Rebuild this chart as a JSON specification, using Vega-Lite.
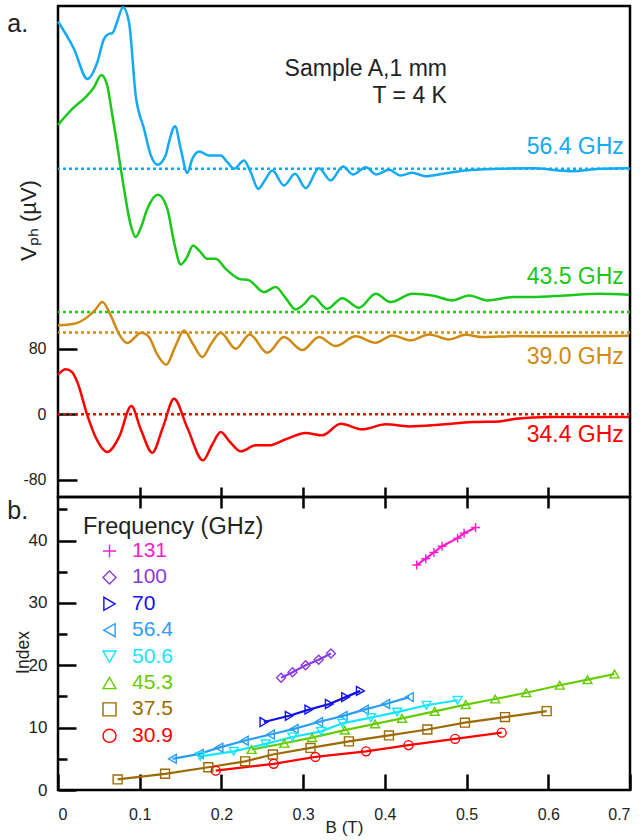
{
  "$schema": "https://vega.github.io/schema/vega-lite/v6.json",
  "padding": {"left": 6, "top": 0, "right": 5, "bottom": 5},
  "spacing": 0,
  "bounds": "flush",
  "config": {
    "font": "Liberation Sans",
    "view": {"stroke": "#000", "strokeWidth": 2.5},
    "axis": {"grid": false, "domain": false, "tickColor": "#000", "tickWidth": 2.5, "labelColor": "#222", "titleColor": "#222", "titleFontWeight": "normal", "labelFont": "Liberation Sans", "titleFont": "Liberation Sans"},
    "text": {"font": "Liberation Sans"}
  },
  "datasets": {
    "base": [
      {"f": "56.4 GHz", "V": 300},
      {"f": "43.5 GHz", "V": 125},
      {"f": "39.0 GHz", "V": 100},
      {"f": "34.4 GHz", "V": 0}
    ],
    "curves": [
      {"f":"56.4 GHz","B":0,"V":480},{"f":"56.4 GHz","B":0.0196,"V":446.5},{"f":"56.4 GHz","B":0.0359,"V":409.9},{"f":"56.4 GHz","B":0.0481,"V":430.3},{"f":"56.4 GHz","B":0.0563,"V":458.8},{"f":"56.4 GHz","B":0.0624,"V":464.9},{"f":"56.4 GHz","B":0.0665,"V":465.7},{"f":"56.4 GHz","B":0.0722,"V":479.2},{"f":"56.4 GHz","B":0.0795,"V":497.5},{"f":"56.4 GHz","B":0.0869,"V":479.2},{"f":"56.4 GHz","B":0.0951,"V":389.6},{"f":"56.4 GHz","B":0.1053,"V":348.8},{"f":"56.4 GHz","B":0.1135,"V":316.7},{"f":"56.4 GHz","B":0.1215,"V":304.9},{"f":"56.4 GHz","B":0.1318,"V":316.7},{"f":"56.4 GHz","B":0.1358,"V":332.6},{"f":"56.4 GHz","B":0.1432,"V":352.1},{"f":"56.4 GHz","B":0.1502,"V":324.4},{"f":"56.4 GHz","B":0.1582,"V":295.1},{"f":"56.4 GHz","B":0.1644,"V":312.2},{"f":"56.4 GHz","B":0.1726,"V":321.2},{"f":"56.4 GHz","B":0.1848,"V":316.3},{"f":"56.4 GHz","B":0.1991,"V":316.3},{"f":"56.4 GHz","B":0.2072,"V":308.2},{"f":"56.4 GHz","B":0.2154,"V":300},{"f":"56.4 GHz","B":0.2276,"V":310.2},{"f":"56.4 GHz","B":0.2358,"V":295.9},{"f":"56.4 GHz","B":0.2451,"V":275.5},{"f":"56.4 GHz","B":0.2533,"V":286.2},{"f":"56.4 GHz","B":0.2623,"V":298},{"f":"56.4 GHz","B":0.2766,"V":279.7},{"f":"56.4 GHz","B":0.2901,"V":293.9},{"f":"56.4 GHz","B":0.3031,"V":276.4},{"f":"56.4 GHz","B":0.3194,"V":300.8},{"f":"56.4 GHz","B":0.3337,"V":285.8},{"f":"56.4 GHz","B":0.3488,"V":302.9},{"f":"56.4 GHz","B":0.361,"V":293.1},{"f":"56.4 GHz","B":0.3766,"V":302},{"f":"56.4 GHz","B":0.3895,"V":293.1},{"f":"56.4 GHz","B":0.4051,"V":298.8},{"f":"56.4 GHz","B":0.4194,"V":291.9},{"f":"56.4 GHz","B":0.4336,"V":295.1},{"f":"56.4 GHz","B":0.45,"V":291.1},{"f":"56.4 GHz","B":0.4745,"V":294.7},{"f":"56.4 GHz","B":0.499,"V":298},{"f":"56.4 GHz","B":0.5397,"V":300},{"f":"56.4 GHz","B":0.5801,"V":300.8},{"f":"56.4 GHz","B":0.6291,"V":297.2},{"f":"56.4 GHz","B":0.6621,"V":300},{"f":"56.4 GHz","B":0.6988,"V":300.8},
      {"f":"43.5 GHz","B":0,"V":353.7},{"f":"43.5 GHz","B":0.0175,"V":373.3},{"f":"43.5 GHz","B":0.0339,"V":387.6},{"f":"43.5 GHz","B":0.0441,"V":399.8},{"f":"43.5 GHz","B":0.053,"V":414.8},{"f":"43.5 GHz","B":0.0603,"V":401.8},{"f":"43.5 GHz","B":0.0649,"V":375.3},{"f":"43.5 GHz","B":0.0706,"V":340.8},{"f":"43.5 GHz","B":0.0808,"V":275.5},{"f":"43.5 GHz","B":0.0881,"V":234.9},{"f":"43.5 GHz","B":0.0951,"V":216.6},{"f":"43.5 GHz","B":0.1016,"V":228.8},{"f":"43.5 GHz","B":0.1093,"V":251.1},{"f":"43.5 GHz","B":0.1224,"V":268.2},{"f":"43.5 GHz","B":0.1338,"V":251.1},{"f":"43.5 GHz","B":0.142,"V":210.4},{"f":"43.5 GHz","B":0.1502,"V":183.2},{"f":"43.5 GHz","B":0.1579,"V":192.1},{"f":"43.5 GHz","B":0.1652,"V":206.4},{"f":"43.5 GHz","B":0.1726,"V":200.3},{"f":"43.5 GHz","B":0.1827,"V":190},{"f":"43.5 GHz","B":0.193,"V":190},{"f":"43.5 GHz","B":0.2052,"V":177.8},{"f":"43.5 GHz","B":0.2215,"V":165.6},{"f":"43.5 GHz","B":0.2338,"V":163.7},{"f":"43.5 GHz","B":0.2521,"V":149.4},{"f":"43.5 GHz","B":0.2664,"V":155.5},{"f":"43.5 GHz","B":0.2778,"V":143.3},{"f":"43.5 GHz","B":0.2909,"V":128.2},{"f":"43.5 GHz","B":0.3011,"V":134.7},{"f":"43.5 GHz","B":0.3112,"V":144.5},{"f":"43.5 GHz","B":0.3296,"V":129},{"f":"43.5 GHz","B":0.3479,"V":142},{"f":"43.5 GHz","B":0.3684,"V":130.2},{"f":"43.5 GHz","B":0.3888,"V":147.3},{"f":"43.5 GHz","B":0.4072,"V":137.2},{"f":"43.5 GHz","B":0.4336,"V":147.3},{"f":"43.5 GHz","B":0.4581,"V":145.3},{"f":"43.5 GHz","B":0.4826,"V":139.2},{"f":"43.5 GHz","B":0.503,"V":145.3},{"f":"43.5 GHz","B":0.5254,"V":139.2},{"f":"43.5 GHz","B":0.556,"V":143.3},{"f":"43.5 GHz","B":0.5805,"V":143.3},{"f":"43.5 GHz","B":0.6213,"V":145.3},{"f":"43.5 GHz","B":0.6621,"V":147.3},{"f":"43.5 GHz","B":0.6988,"V":146.1},
      {"f":"39.0 GHz","B":0,"V":108.7},{"f":"39.0 GHz","B":0.0196,"V":110.7},{"f":"39.0 GHz","B":0.0359,"V":118.8},{"f":"39.0 GHz","B":0.0453,"V":127.4},{"f":"39.0 GHz","B":0.0542,"V":137.2},{"f":"39.0 GHz","B":0.0645,"V":120.9},{"f":"39.0 GHz","B":0.0747,"V":98.1},{"f":"39.0 GHz","B":0.0848,"V":87.1},{"f":"39.0 GHz","B":0.1019,"V":99.7},{"f":"39.0 GHz","B":0.1114,"V":94.4},{"f":"39.0 GHz","B":0.1212,"V":73.7},{"f":"39.0 GHz","B":0.1325,"V":60.6},{"f":"39.0 GHz","B":0.1432,"V":82.2},{"f":"39.0 GHz","B":0.1542,"V":102.6},{"f":"39.0 GHz","B":0.1652,"V":85.9},{"f":"39.0 GHz","B":0.1766,"V":70},{"f":"39.0 GHz","B":0.1872,"V":85.9},{"f":"39.0 GHz","B":0.1991,"V":99.7},{"f":"39.0 GHz","B":0.2175,"V":80.1},{"f":"39.0 GHz","B":0.2346,"V":97.7},{"f":"39.0 GHz","B":0.2561,"V":75.2},{"f":"39.0 GHz","B":0.2766,"V":94.4},{"f":"39.0 GHz","B":0.299,"V":78.5},{"f":"39.0 GHz","B":0.3194,"V":94.4},{"f":"39.0 GHz","B":0.3399,"V":83.4},{"f":"39.0 GHz","B":0.3643,"V":95.3},{"f":"39.0 GHz","B":0.3888,"V":87.5},{"f":"39.0 GHz","B":0.4091,"V":96.5},{"f":"39.0 GHz","B":0.4316,"V":90.4},{"f":"39.0 GHz","B":0.4541,"V":97.7},{"f":"39.0 GHz","B":0.4785,"V":91.6},{"f":"39.0 GHz","B":0.499,"V":97.2},{"f":"39.0 GHz","B":0.5193,"V":94.4},{"f":"39.0 GHz","B":0.5602,"V":95.6},{"f":"39.0 GHz","B":0.6213,"V":95.3},{"f":"39.0 GHz","B":0.6988,"V":96},
      {"f":"34.4 GHz","B":0,"V":48.4},{"f":"34.4 GHz","B":0.0094,"V":55},{"f":"34.4 GHz","B":0.0171,"V":51.7},{"f":"34.4 GHz","B":0.0236,"V":39.5},{"f":"34.4 GHz","B":0.0359,"V":-1.2},{"f":"34.4 GHz","B":0.0465,"V":-28.9},{"f":"34.4 GHz","B":0.0603,"V":-46},{"f":"34.4 GHz","B":0.0747,"V":-27.7},{"f":"34.4 GHz","B":0.0897,"V":10.1},{"f":"34.4 GHz","B":0.1016,"V":-19.2},{"f":"34.4 GHz","B":0.1154,"V":-46.9},{"f":"34.4 GHz","B":0.1285,"V":-15.5},{"f":"34.4 GHz","B":0.142,"V":19.1},{"f":"34.4 GHz","B":0.1579,"V":-15.5},{"f":"34.4 GHz","B":0.1775,"V":-56.2},{"f":"34.4 GHz","B":0.1885,"V":-37.5},{"f":"34.4 GHz","B":0.1991,"V":-21.6},{"f":"34.4 GHz","B":0.2105,"V":-33.8},{"f":"34.4 GHz","B":0.2236,"V":-45.2},{"f":"34.4 GHz","B":0.242,"V":-37.9},{"f":"34.4 GHz","B":0.2582,"V":-37.9},{"f":"34.4 GHz","B":0.2787,"V":-30.5},{"f":"34.4 GHz","B":0.3031,"V":-22.8},{"f":"34.4 GHz","B":0.3235,"V":-25.6},{"f":"34.4 GHz","B":0.346,"V":-11.5},{"f":"34.4 GHz","B":0.3724,"V":-18.3},{"f":"34.4 GHz","B":0.4011,"V":-12.2},{"f":"34.4 GHz","B":0.4296,"V":-14.7},{"f":"34.4 GHz","B":0.4663,"V":-12.7},{"f":"34.4 GHz","B":0.507,"V":-9.4},{"f":"34.4 GHz","B":0.5397,"V":-8.6},{"f":"34.4 GHz","B":0.5602,"V":-5.4},{"f":"34.4 GHz","B":0.6009,"V":-3.3},{"f":"34.4 GHz","B":0.6988,"V":-3.3}
    ],
    "idx": [
      {"f":"131","B":0.439,"I":36.1},{"f":"131","B":0.45,"I":37.1},{"f":"131","B":0.46,"I":38.1},{"f":"131","B":0.47,"I":39.1},{"f":"131","B":0.489,"I":40.4},{"f":"131","B":0.497,"I":41.2},{"f":"131","B":0.511,"I":42.1},
      {"f":"100","B":0.273,"I":18.0},{"f":"100","B":0.287,"I":18.9},{"f":"100","B":0.303,"I":20.0},{"f":"100","B":0.319,"I":20.9},{"f":"100","B":0.334,"I":21.9},
      {"f":"70","B":0.252,"I":10.9},{"f":"70","B":0.283,"I":11.9},{"f":"70","B":0.307,"I":12.9},{"f":"70","B":0.332,"I":13.8},{"f":"70","B":0.352,"I":14.9},{"f":"70","B":0.37,"I":15.9},
      {"f":"56.4","B":0.14,"I":5.0},{"f":"56.4","B":0.173,"I":5.8},{"f":"56.4","B":0.197,"I":6.8},{"f":"56.4","B":0.228,"I":7.9},{"f":"56.4","B":0.26,"I":8.9},{"f":"56.4","B":0.289,"I":9.8},{"f":"56.4","B":0.319,"I":10.9},{"f":"56.4","B":0.349,"I":11.9},{"f":"56.4","B":0.375,"I":12.9},{"f":"56.4","B":0.401,"I":13.8},{"f":"56.4","B":0.43,"I":14.9},
      {"f":"50.6","B":0.174,"I":5.4},{"f":"50.6","B":0.215,"I":6.2},{"f":"50.6","B":0.254,"I":7.4},{"f":"50.6","B":0.287,"I":8.5},{"f":"50.6","B":0.322,"I":9.4},{"f":"50.6","B":0.348,"I":10.7},{"f":"50.6","B":0.383,"I":11.6},{"f":"50.6","B":0.415,"I":12.5},{"f":"50.6","B":0.451,"I":13.6},{"f":"50.6","B":0.489,"I":14.4},
      {"f":"45.3","B":0.237,"I":6.5},{"f":"45.3","B":0.277,"I":7.5},{"f":"45.3","B":0.311,"I":8.4},{"f":"45.3","B":0.351,"I":9.6},{"f":"45.3","B":0.388,"I":10.6},{"f":"45.3","B":0.421,"I":11.5},{"f":"45.3","B":0.461,"I":12.6},{"f":"45.3","B":0.499,"I":13.7},{"f":"45.3","B":0.535,"I":14.6},{"f":"45.3","B":0.573,"I":15.6},{"f":"45.3","B":0.614,"I":16.8},{"f":"45.3","B":0.648,"I":17.7},{"f":"45.3","B":0.681,"I":18.6},
      {"f":"37.5","B":0.073,"I":1.7},{"f":"37.5","B":0.131,"I":2.6},{"f":"37.5","B":0.184,"I":3.65},{"f":"37.5","B":0.229,"I":4.6},{"f":"37.5","B":0.263,"I":5.7},{"f":"37.5","B":0.309,"I":6.75},{"f":"37.5","B":0.356,"I":7.8},{"f":"37.5","B":0.405,"I":8.75},{"f":"37.5","B":0.452,"I":9.7},{"f":"37.5","B":0.498,"I":10.8},{"f":"37.5","B":0.547,"I":11.7},{"f":"37.5","B":0.598,"I":12.65},
      {"f":"30.9","B":0.193,"I":3.1},{"f":"30.9","B":0.264,"I":4.2},{"f":"30.9","B":0.315,"I":5.3},{"f":"30.9","B":0.377,"I":6.2},{"f":"30.9","B":0.429,"I":7.2},{"f":"30.9","B":0.486,"I":8.2},{"f":"30.9","B":0.543,"I":9.2}
    ]
  },
  "vconcat": [
    {
      "width": 572,
      "height": 491,
      "encoding": {
        "x": {"type": "quantitative", "scale": {"domain": [0, 0.7], "nice": false, "zero": false},
              "axis": {"orient": "bottom", "values": [0.1, 0.2, 0.3, 0.4, 0.5, 0.6], "labels": false, "tickSize": -10, "title": null}},
        "y": {"type": "quantitative", "scale": {"domain": [-101, 499], "nice": false, "zero": false},
              "axis": {"values": [-80, 0, 80], "tickSize": -19, "labelExpr": "'' + datum.value", "labelFontSize": 16, "labelPadding": 31, "title": "Vₚₕ (µV)", "titleFontSize": 22, "titlePadding": -18, "titleY": 214}}
      },
      "layer": [
        {
          "data": {"name": "base"},
          "mark": {"type": "rule", "strokeDash": [3, 3], "strokeWidth": 2.5},
          "encoding": {
            "x": null,
            "y": {"field": "V"},
            "color": {"field": "f", "type": "nominal", "legend": null, "scale": {"domain": ["56.4 GHz", "43.5 GHz", "39.0 GHz", "34.4 GHz"], "range": ["#12a9f5", "#19c819", "#cf8a12", "#ff0000"]}}
          }
        },
        {
          "data": {"name": "curves"},
          "mark": {"type": "line", "strokeWidth": 2.5, "interpolate": "monotone"},
          "encoding": {
            "x": {"field": "B"},
            "y": {"field": "V"},
            "color": {"field": "f", "type": "nominal", "legend": null, "scale": {"domain": ["56.4 GHz", "43.5 GHz", "39.0 GHz", "34.4 GHz"], "range": ["#12a9f5", "#19c819", "#cf8a12", "#ff0000"]}}
          }
        },
        {
          "data": {"values": [{}]},
          "mark": {"type": "text", "text": "a.", "align": "left", "baseline": "top", "fontSize": 25, "color": "#222"},
          "encoding": {"x": {"datum": -0.062}, "y": {"datum": 491.4}}
        },
        {
          "data": {"values": [{}]},
          "mark": {"type": "text", "text": "Sample A,1 mm", "align": "right", "baseline": "alphabetic", "fontSize": 23, "color": "#222"},
          "encoding": {"x": {"datum": 0.476}, "y": {"datum": 413}}
        },
        {
          "data": {"values": [{}]},
          "mark": {"type": "text", "text": "T = 4 K", "align": "right", "baseline": "alphabetic", "fontSize": 23, "color": "#222"},
          "encoding": {"x": {"datum": 0.476}, "y": {"datum": 381}}
        },
        {
          "data": {"values": [{}]},
          "mark": {"type": "text", "text": "56.4 GHz", "align": "right", "baseline": "alphabetic", "fontSize": 23, "color": "#12a9f5"},
          "encoding": {"x": {"datum": 0.6925}, "y": {"datum": 318}}
        },
        {
          "data": {"values": [{}]},
          "mark": {"type": "text", "text": "43.5 GHz", "align": "right", "baseline": "alphabetic", "fontSize": 23, "color": "#19c819"},
          "encoding": {"x": {"datum": 0.6925}, "y": {"datum": 159.5}}
        },
        {
          "data": {"values": [{}]},
          "mark": {"type": "text", "text": "39.0 GHz", "align": "right", "baseline": "alphabetic", "fontSize": 23, "color": "#cf8a12"},
          "encoding": {"x": {"datum": 0.6925}, "y": {"datum": 62}}
        },
        {
          "data": {"values": [{}]},
          "mark": {"type": "text", "text": "34.4 GHz", "align": "right", "baseline": "alphabetic", "fontSize": 23, "color": "#ff0000"},
          "encoding": {"x": {"datum": 0.6925}, "y": {"datum": -34}}
        }
      ]
    },
    {
      "width": 572,
      "height": 293,
      "encoding": {
        "y": {"type": "quantitative", "scale": {"domain": [0, 47], "nice": false, "zero": false},
              "axis": {"values": [0, 5, 10, 15, 20, 25, 30, 35, 40, 45], "tickSize": {"condition": {"test": "datum.value % 10 != 0", "value": -9}, "value": -18}, "labelExpr": "datum.value % 10 == 0 ? '' + datum.value : ''", "labelFontSize": 17, "labelPadding": 29, "title": "Index", "titleFontSize": 17.5, "titlePadding": -4, "titleY": 155}},
        "color": {"field": "f", "type": "nominal", "scale": {"domain": ["131", "100", "70", "56.4", "50.6", "45.3", "37.5", "30.9"], "range": ["#ff1acc", "#8a3be0", "#1010ee", "#2a9df4", "#14e6ff", "#66cc00", "#9b6a00", "#ff0000"]},
                  "legend": {"orient": "none", "legendX": 41, "legendY": 43.5, "title": null, "labelFontSize": 21, "labelLimit": 200, "labelColor": {"expr": "datum.value=='131'?'#ff1acc':datum.value=='100'?'#8a3be0':datum.value=='70'?'#1010ee':datum.value=='56.4'?'#2a9df4':datum.value=='50.6'?'#14e6ff':datum.value=='45.3'?'#66cc00':datum.value=='37.5'?'#9b6a00':'#ff0000'"}, "symbolSize": 170, "symbolStrokeWidth": 1.4, "labelOffset": 12, "rowPadding": 4.4, "padding": 0}}
      },
      "layer": [
        {
          "data": {"name": "idx"},
          "mark": {"type": "line", "strokeWidth": 2.2},
          "encoding": {
            "x": {"field": "B", "type": "quantitative", "scale": {"domain": [0, 0.7], "nice": false, "zero": false},
                  "axis": {"orient": "top", "values": [0.1, 0.2, 0.3, 0.4, 0.5, 0.6], "labels": false, "tickSize": -11, "title": null}},
            "y": {"field": "I"}
          }
        },
        {
          "data": {"name": "idx"},
          "mark": {"type": "point", "filled": false, "size": 80, "strokeWidth": 1.4, "opacity": 1},
          "encoding": {
            "x": {"field": "B", "type": "quantitative", "scale": {"domain": [0, 0.7], "nice": false, "zero": false},
                  "axis": {"orient": "bottom", "values": [0, 0.1, 0.2, 0.3, 0.4, 0.5, 0.6, 0.7], "labelExpr": "'' + datum.value", "tickSize": -16, "labelFontSize": 16, "labelPadding": 32, "title": "B (T)", "titleFontSize": 17, "titlePadding": -3}},
            "y": {"field": "I"},
            "shape": {"field": "f", "type": "nominal", "scale": {"domain": ["131", "100", "70", "56.4", "50.6", "45.3", "37.5", "30.9"], "range": ["M-1,0H1M0,-1V1", "diamond", "triangle-right", "triangle-left", "triangle-down", "triangle-up", "square", "circle"]},
                      "legend": {"orient": "none", "legendX": 41, "legendY": 43.5, "title": null, "labelFontSize": 21, "labelLimit": 200, "labelColor": {"expr": "datum.value=='131'?'#ff1acc':datum.value=='100'?'#8a3be0':datum.value=='70'?'#1010ee':datum.value=='56.4'?'#2a9df4':datum.value=='50.6'?'#14e6ff':datum.value=='45.3'?'#66cc00':datum.value=='37.5'?'#9b6a00':'#ff0000'"}, "symbolSize": 170, "symbolStrokeWidth": 1.4, "labelOffset": 12, "rowPadding": 4.4, "padding": 0}}
          }
        },
        {
          "data": {"values": [{}]},
          "mark": {"type": "text", "text": "b.", "align": "left", "baseline": "top", "fontSize": 25, "color": "#222"},
          "encoding": {"x": {"datum": -0.062, "type": "quantitative", "scale": {"domain": [0, 0.7], "nice": false, "zero": false}, "axis": null}, "y": {"datum": 46.68}, "color": null}
        },
        {
          "data": {"values": [{}]},
          "mark": {"type": "text", "text": "Frequency (GHz)", "align": "left", "baseline": "alphabetic", "fontSize": 23.5, "color": "#222"},
          "encoding": {"x": {"datum": 0.0306, "type": "quantitative", "scale": {"domain": [0, 0.7], "nice": false, "zero": false}, "axis": null}, "y": {"datum": 41.1}, "color": null}
        }
      ],
      "resolve": {"axis": {"x": "independent"}}
    }
  ],
  "resolve": {"scale": {"color": "independent", "shape": "independent"}}
}
